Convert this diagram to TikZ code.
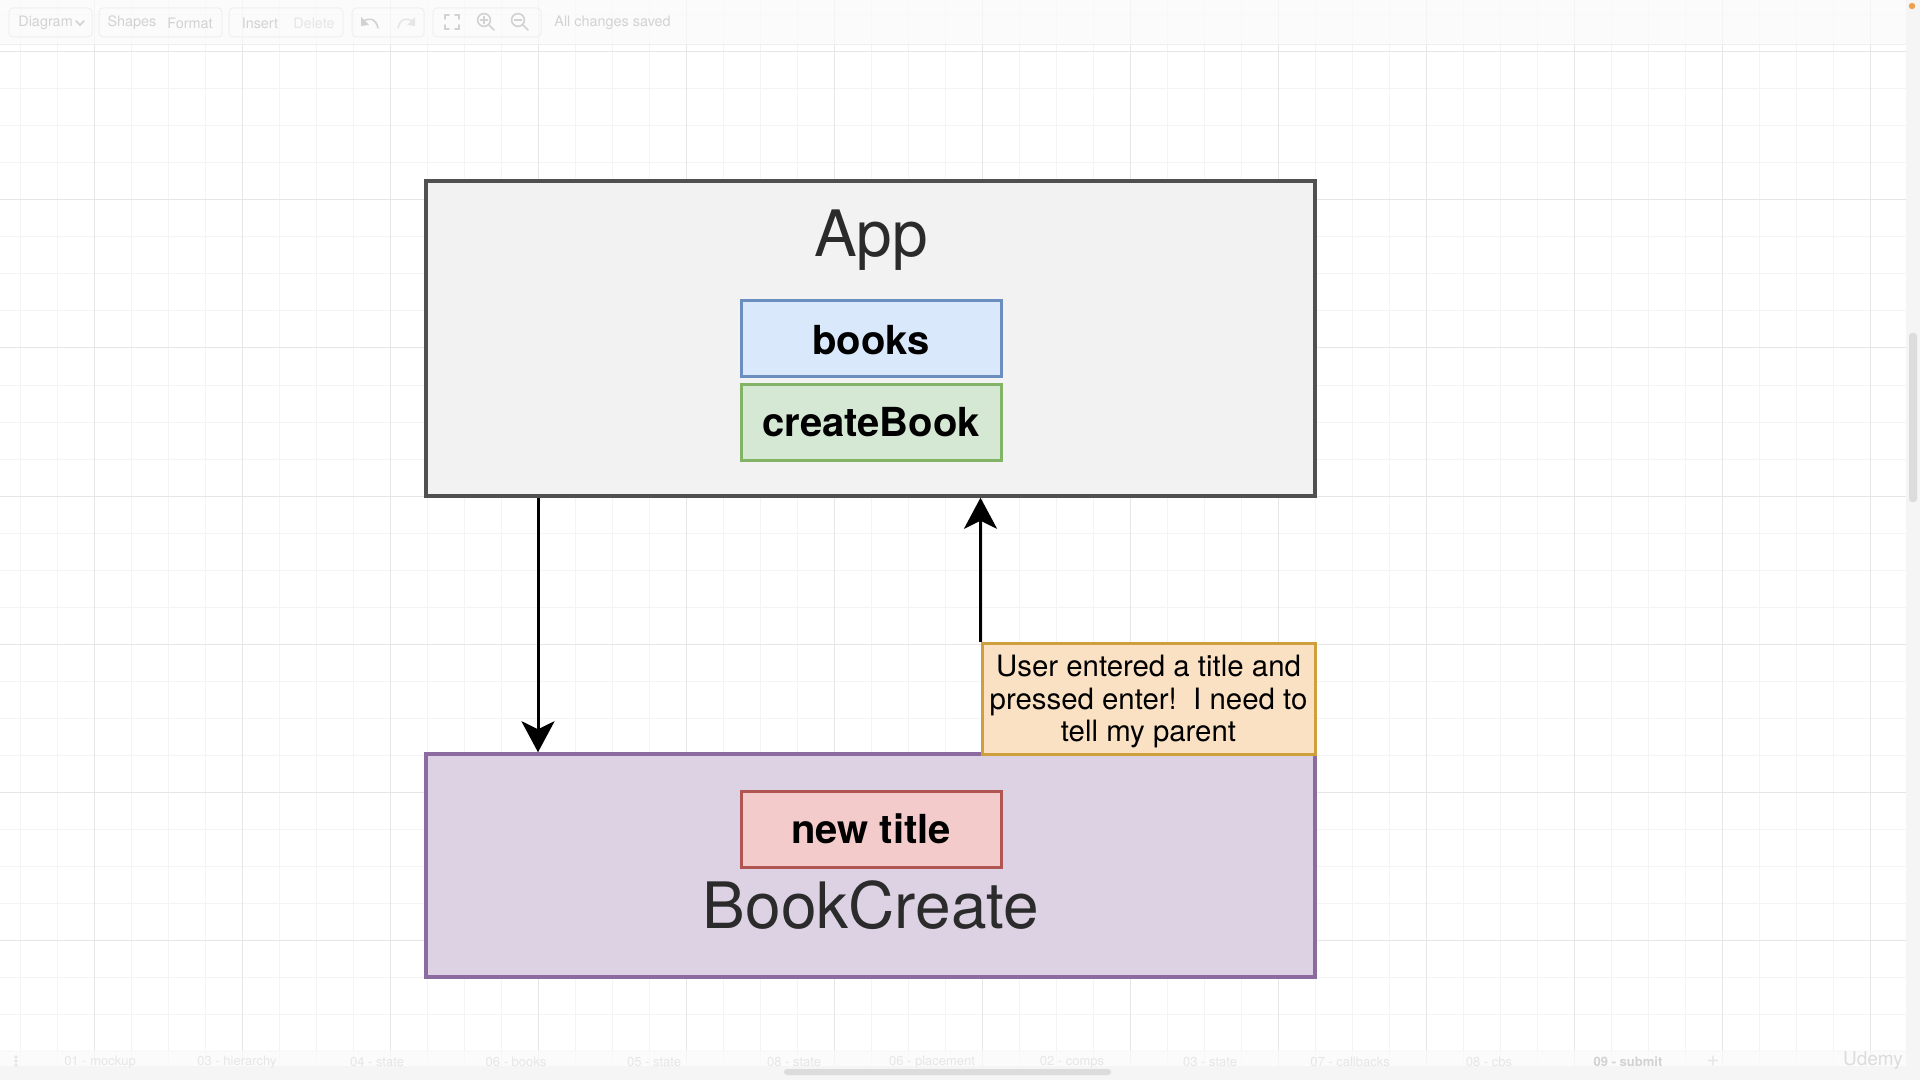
\documentclass[tikz,border=0pt]{standalone}
\usepackage{fontspec}
\setmainfont{TeX Gyre Heros}
\usetikzlibrary{arrows.meta}

\definecolor{gridminor}{HTML}{F4F4F4}
\definecolor{gridmajor}{HTML}{E6E6E6}
\definecolor{appfill}{HTML}{F2F2F2}
\definecolor{appline}{HTML}{505050}
\definecolor{booksfill}{HTML}{DAE8FC}
\definecolor{booksline}{HTML}{6C8EBF}
\definecolor{cbfill}{HTML}{D5E8D4}
\definecolor{cbline}{HTML}{82B366}
\definecolor{notefill}{HTML}{FAE1C4}
\definecolor{noteline}{HTML}{CF9F3E}
\definecolor{bcfill}{HTML}{DDD1E4}
\definecolor{bcline}{HTML}{8C6CA0}
\definecolor{ntfill}{HTML}{F3CBCA}
\definecolor{ntline}{HTML}{B05552}
\definecolor{titletext}{HTML}{2B2B2B}
\definecolor{uitext}{HTML}{D2D2D2}
\definecolor{uifaint}{HTML}{E6E6E6}
\definecolor{uiline}{HTML}{EFEFEF}
\definecolor{barbg}{HTML}{FAFAFA}
\definecolor{scrollbg}{HTML}{F5F5F5}
\definecolor{thumb}{HTML}{DCDCDC}
\definecolor{dotorange}{HTML}{EFA04E}

\begin{document}
\begin{tikzpicture}[x=0.5pt,y=-0.5pt,
  panel/.style={draw, rectangle, inner sep=0pt, line width=1.75pt},
  chip/.style={draw, rectangle, inner sep=0pt, line width=1.5pt,
    minimum width=130pt, minimum height=37.8pt},
  bigtitle/.style={anchor=base, text=titletext, font=\fontsize{32}{38}\selectfont},
  chiptext/.style={anchor=base, font=\fontsize{20}{24}\selectfont\bfseries},
  notetext/.style={anchor=base, font=\fontsize{14.7}{17}\selectfont},
  conn/.style={line width=1.5pt, -{Stealth[length=15.5pt,width=16.5pt,inset=4pt]}},
  uilabel/.style={text=uitext, font=\fontsize{7.2}{9}\selectfont, inner sep=0pt},
  tablabel/.style={text=uifaint, font=\fontsize{6.5}{8}\selectfont, inner sep=0pt},
  uigroup/.style={draw=uiline, line width=0.5pt, rounded corners=2pt},
  uiicon/.style={draw=uitext, line width=0.8pt, line cap=round}]

\useasboundingbox (0,0) rectangle (1920,1080);
\fill[white] (0,0) rectangle (1920,1080);

% canvas grid
\foreach \gx in {20,57,...,1920} \draw[gridminor, line width=0.5pt] (\gx,0) -- (\gx,1080);
\foreach \gy in {15,52,...,1080} \draw[gridminor, line width=0.5pt] (0,\gy) -- (1920,\gy);
\foreach \gx in {94,242,...,1920} \draw[gridmajor, line width=0.5pt] (\gx,0) -- (\gx,1080);
\foreach \gy in {52,200,...,1080} \draw[gridmajor, line width=0.5pt] (0,\gy) -- (1920,\gy);

% editor toolbar
\fill[barbg, opacity=0.7] (0,0) rectangle (1906,45);
\draw[uiline, line width=0.5pt] (0,45) -- (1906,45);
\draw[uigroup] (9,8) rectangle (92,37);
\draw[uigroup] (99,8) rectangle (222,37);
\draw[uigroup] (229,8) rectangle (343,37);
\draw[uigroup] (352,8) rectangle (424,37);
\draw[uigroup] (433,8) rectangle (541,37);
\node[uilabel, anchor=west] (tbdiagram) at (18,23) {Diagram};
\draw[uiicon] (76,21) -- (80,25) -- (84,21);
\node[uilabel] (tbshapes) at (132,23) {Shapes};
\node[uilabel] (tbformat) at (190,23) {Format};
\node[uilabel] (tbinsert) at (260,23) {Insert};
\node[uilabel, text=uifaint] (tbdelete) at (314,23) {Delete};
% undo / redo
\draw[uiicon] (378,28) .. controls (376,18) and (368,17) .. (363,22);
\fill[uitext] (361,17) -- (361,26) -- (369,25) -- cycle;
\draw[uiicon, draw=uifaint] (398,28) .. controls (400,18) and (408,17) .. (413,22);
\fill[uifaint] (415,17) -- (415,26) -- (407,25) -- cycle;
% fit / zoom in / zoom out
\draw[uiicon] (445,19) -- (445,15) -- (449,15);
\draw[uiicon] (455,15) -- (459,15) -- (459,19);
\draw[uiicon] (459,25) -- (459,29) -- (455,29);
\draw[uiicon] (449,29) -- (445,29) -- (445,25);
\draw[uiicon] (484,20) circle (3.2pt);
\draw[uiicon] (488.5,24.5) -- (494,30);
\draw[uiicon] (480.5,20) -- (487.5,20);
\draw[uiicon] (484,16.5) -- (484,23.5);
\draw[uiicon] (518,20) circle (3.2pt);
\draw[uiicon] (522.5,24.5) -- (528,30);
\draw[uiicon] (514.5,20) -- (521.5,20);
\node[uilabel, anchor=west] (tbsaved) at (554,23) {All changes saved};

% right scrollbar
\fill[scrollbg] (1906,0) rectangle (1920,1080);
\fill[thumb, rounded corners=1.5pt] (1909,333) rectangle (1917,502);
\fill[dotorange] (1912,6) circle (1.6pt);

% page tabs
\fill[barbg, opacity=0.7] (0,1050) rectangle (1906,1066);
\fill[scrollbg] (0,1066) rectangle (1906,1080);
\fill[thumb, rounded corners=1.5pt] (784,1069) rectangle (1111,1075);
\foreach \dy in {1057,1061,1065} \fill[uifaint] (16,\dy) circle (0.9pt);
\node[tablabel] (tab01) at (100,1062) {01 - mockup};
\node[tablabel] (tab02) at (237,1062) {03 - hierarchy};
\node[tablabel] (tab03) at (377,1062) {04 - state};
\node[tablabel] (tab04) at (516,1062) {06 - books};
\node[tablabel] (tab05) at (654,1062) {05 - state};
\node[tablabel] (tab06) at (794,1062) {08 - state};
\node[tablabel] (tab07) at (932,1062) {06 - placement};
\node[tablabel] (tab08) at (1072,1062) {02 - comps};
\node[tablabel] (tab09) at (1210,1062) {03 - state};
\node[tablabel] (tab10) at (1350,1062) {07 - callbacks};
\node[tablabel] (tab11) at (1489,1062) {08 - cbs};
\node[tablabel, text=uitext, font=\fontsize{6.5}{8}\selectfont\bfseries] (tab12) at (1628,1062) {09 - submit};
\node[tablabel, font=\fontsize{11}{12}\selectfont] (tabadd) at (1713,1061) {+};
\node[tablabel, text=thumb, font=\fontsize{9.5}{11}\selectfont] (brand) at (1873,1061) {Udemy};

% App component
\node[panel, draw=appline, fill=appfill, minimum width=444.5pt, minimum height=157.5pt]
  (app) at (870.5,338.5) {};
\node[bigtitle] (apptitle) at (871,257) {App};
\node[chip, draw=booksline, fill=booksfill] (books) at (871,338.8) {};
\node[chiptext] (bookstext) at (871,354.3) {books};
\node[chip, draw=cbline, fill=cbfill] (createbook) at (871,422.2) {};
\node[chiptext] (createbooktext) at (871,436.7) {createBook};

% BookCreate component
\node[panel, draw=bcline, fill=bcfill, minimum width=444.5pt, minimum height=111.5pt]
  (bookcreate) at (870.5,865.5) {};
\node[chip, draw=ntline, fill=ntfill] (newtitle) at (871,829.2) {};
\node[chiptext] (newtitletext) at (871,843.3) {new title};
\node[bigtitle] (bctitle) at (871,928.3) {BookCreate};

% callback note
\node[draw=noteline, fill=notefill, line width=1.5pt, rectangle, inner sep=0pt,
  minimum width=166.5pt, minimum height=55.25pt] (note) at (1148.5,698.75) {};
\node[notetext] (noteline1) at (1148.5,676.7) {User entered a title and};
\node[notetext] (noteline2) at (1148.5,709) {pressed enter!\ \ I need to};
\node[notetext] (noteline3) at (1148.5,741.7) {tell my parent};

% props down, callback up
\coordinate (downx) at (538,0);
\draw[conn] (app.south -| downx) -- (bookcreate.north -| downx);
\draw[conn] (note.north west) -- (app.south -| note.north west);

\end{tikzpicture}
\end{document}
